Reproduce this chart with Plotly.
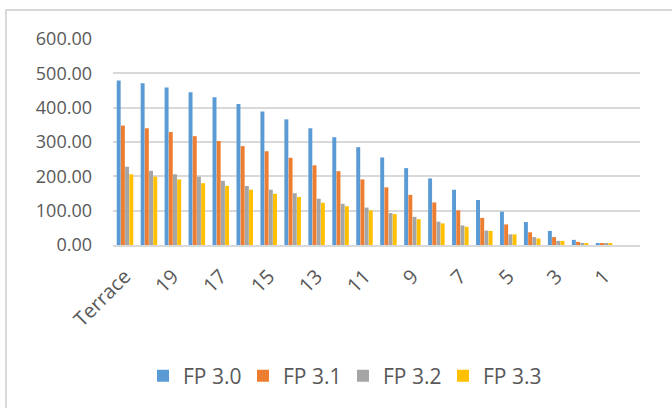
import plotly.graph_objects as go

categories = ["Terrace", "20", "19", "18", "17", "16", "15", "14", "13", "12", "11",
              "10", "9", "8", "7", "6", "5", "4", "3", "2", "1"]
fp30 = [479, 471, 459, 445, 430, 411, 389, 366, 340, 314, 285, 255, 224, 194, 161, 131, 97, 67, 41, 15, 5]
fp31 = [348, 340, 329, 317, 303, 288, 273, 254, 232, 215, 191, 168, 146, 124, 101, 79, 60, 37, 23, 9, 5]
fp32 = [228, 216, 206, 199, 187, 172, 161, 151, 135, 120, 109, 93, 82, 68, 57, 42, 31, 23, 12, 6, 5]
fp33 = [206, 199, 191, 180, 172, 161, 149, 140, 123, 113, 101, 90, 75, 63, 53, 41, 31, 19, 12, 5, 4]
series_names = ["FP 3.0", "FP 3.1", "FP 3.2", "FP 3.3"]
colors = ["#5B9BD5", "#ED7D31", "#A5A5A5", "#FFC000"]
y_ticks = [0, 100, 200, 300, 400, 500, 600]

fig = go.Figure()
for name, vals, col in zip(series_names, [fp30, fp31, fp32, fp33], colors):
    fig.add_trace(go.Bar(x=categories, y=vals, name=name, marker_color=col,
                         marker_line_width=0))

W, H = 672, 408
L, R, T, B = 113, 32, 39, 163
pw, ph = W - L - R, H - T - B

def px2paper_x(px):
    return (px - L) / pw

def px2paper_y(py):
    return (H - B - py) / ph

font_fam = "Open Sans, Lato, sans-serif"
fig.update_layout(
    width=W, height=H,
    margin=dict(l=L, r=R, t=T, b=B, autoexpand=False),
    paper_bgcolor="white", plot_bgcolor="white",
    barmode="group", bargap=0.3, bargroupgap=0.06,
    font=dict(family=font_fam, color="#595959", size=18),
    xaxis=dict(type="category", range=[-0.5, 21.5],
               tickmode="array", tickvals=categories[::2], ticktext=categories[::2],
               tickangle=-45, showgrid=False, showline=True, linecolor="#D9D9D9",
               linewidth=1.5, ticks="", tickfont=dict(size=20),
               ticklabelstandoff=10),
    yaxis=dict(range=[0, 600], tickvals=y_ticks, tickformat=".2f",
               showgrid=True, gridcolor="#D9D9D9", gridwidth=1.5,
               zeroline=False, showline=False, ticks="", ticklabelstandoff=20,
               tickfont=dict(size=18)),
    legend=dict(orientation="h", x=px2paper_x(343), xanchor="center",
                y=px2paper_y(376), yanchor="middle", font=dict(size=21),
                itemwidth=30, entrywidth=55, traceorder="normal"),
    showlegend=True,
)
fig.add_shape(type="rect", xref="paper", yref="paper",
              x0=px2paper_x(6), x1=px2paper_x(W + 10),
              y0=px2paper_y(H + 10), y1=px2paper_y(10),
              line=dict(color="#D9D9D9", width=2), fillcolor="rgba(0,0,0,0)",
              layer="below")
fig.write_html("out.html", config={"displayModeBar": False},
               post_script="document.body.style.margin='0px';document.body.style.overflow='hidden';")
